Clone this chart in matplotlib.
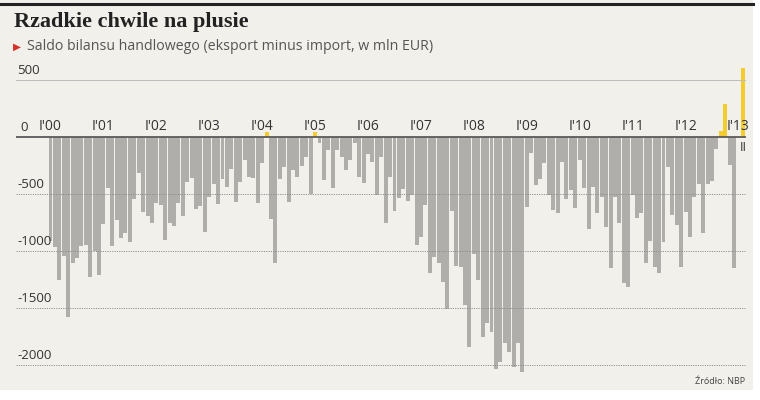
import matplotlib
matplotlib.use("Agg")
import matplotlib.pyplot as plt
from matplotlib.patches import Rectangle
import numpy as np

# Monthly trade balance, Jan 2000 - Feb 2013 (mln EUR)
values = [
    -908, -967, -1258, -1045, -1582, -1102, -1058, -952, -943, -1225, -1001, -1206,   # 2000
    -760, -446, -952, -725, -884, -840, -918, -543, -316, -661, -696, -750,           # 2001
    -582, -600, -903, -757, -780, -582, -693, -392, -362, -634, -605, -830,           # 2002
    -523, -412, -588, -371, -436, -283, -567, -392, -202, -348, -362, -576,           # 2003
    -231, 45, -722, -1108, -371, -260, -567, -289, -348, -254, -173, -500,            # 2004
    45, -56, -377, -114, -450, -114, -173, -290, -202, -50, -348, -400,               # 2005
    -149, -216, -509, -178, -751, -348, -649, -538, -459, -561, -509, -947,           # 2006
    -874, -596, -1196, -1050, -1108, -1269, -1508, -646, -1131, -1143, -1473, -1839,  # 2007
    -1029, -1254, -1751, -1628, -1707, -2037, -1970, -1809, -1883, -2014, -1803, -2064,  # 2008
    -611, -137, -421, -371, -225, -509, -640, -669, -216, -544, -465, -625,           # 2009
    -202, -450, -807, -436, -664, -523, -786, -1152, -523, -751, -1278, -1313,        # 2010
    -509, -713, -664, -1108, -909, -1137, -1190, -918, -266, -684, -772, -1137,       # 2011
    -655, -880, -523, -415, -845, -412, -383, -108, 55, 289, -246, -1152,             # 2012
    0, 602,                                                                           # 2013
]
year_labels = ["I'00", "I'01", "I'02", "I'03", "I'04", "I'05", "I'06",
               "I'07", "I'08", "I'09", "I'10", "I'11", "I'12", "I'13"]
y_ticks = [500, 0, -500, -1000, -1500, -2000]
title = "Rzadkie chwile na plusie"
subtitle = "Saldo bilansu handlowego (eksport minus import, w mln EUR)"
source = "Źródło: NBP"
last_label = "II"

W, H = 760, 400
BG = "#f2f0eb"
GRAY = "#afaeab"
YELLOW = "#f3cd2e"
TXT = "#333333"

fig = plt.figure(figsize=(W / 100, H / 100), dpi=100)
fig.patch.set_facecolor("white")
fig.patches.append(Rectangle((0, 10 / H), 753 / W, 390 / H, transform=fig.transFigure,
                             facecolor=BG, edgecolor="none", zorder=-10))
fig.add_artist(plt.Line2D([0, 753 / W], [1 - 4 / H, 1 - 4 / H], transform=fig.transFigure,
                          color="#222222", lw=2.2))

ax_left_px, ax_right_px, ax_top_px, ax_bot_px = 16, 748, 60, 380
ax = fig.add_axes([ax_left_px / W, 1 - ax_bot_px / H,
                   (ax_right_px - ax_left_px) / W, (ax_bot_px - ax_top_px) / H])
ax.set_facecolor("none")
for s in ax.spines.values():
    s.set_visible(False)
ax.set_xticks([])
ax.set_yticks([])

n = len(values)
idx = np.arange(n)
colors = [YELLOW if v > 0 else GRAY for v in values]
ax.bar(idx, values, width=0.9, color=colors, zorder=2, linewidth=0)

bar_px = 4.41
x0 = (ax_left_px - 48.3) / bar_px - 0.5
x1 = (ax_right_px - 48.3) / bar_px - 0.5
ax.set_xlim(x0, x1)
ax.set_ylim(-(ax_bot_px - 137) * 8.77, (137 - ax_top_px) * 8.77)

grid_end = ((745 - 48.3) / bar_px - 0.5 - x0) / (x1 - x0)
for t in y_ticks:
    if t == 0:
        ax.axhline(0, xmin=0, xmax=grid_end, color="#5a5a5a", lw=1.3, zorder=4)
    elif t > 0:
        ax.axhline(t, xmin=0, xmax=grid_end, color="#bdbdbd", lw=0.7, zorder=3)
    else:
        ax.axhline(t, xmin=0, xmax=grid_end, color="#8f8f8f", lw=0.7,
                   ls=(0, (1.2, 1.2)), zorder=3)
    ax.annotate(str(t), xy=(0, t), xycoords=("axes fraction", "data"),
                xytext=(1 if t != 0 else 3, 2), textcoords="offset points",
                ha="left", va="bottom", fontsize=9.5, color=TXT, family="Open Sans")

for k, lab in enumerate(year_labels):
    ax.annotate(lab, xy=(12 * k, 0), xycoords="data", xytext=(0, 2),
                textcoords="offset points", ha="center", va="bottom",
                fontsize=10, color=TXT, family="Open Sans")

ax.annotate(last_label, xy=(n - 1, 0), xycoords="data", xytext=(0, -3),
            textcoords="offset points", ha="center", va="top",
            fontsize=9, color=TXT, family="Open Sans")

fig.text(14 / W, 1 - 22 / H, title, fontsize=16, fontweight="bold",
         family="Liberation Serif", color="#222222", va="center", ha="left")
fig.text(13 / W, 1 - 47 / H, "▶", fontsize=7.5, color="#d6322b",
         family="DejaVu Sans", va="center", ha="left")
fig.text(27 / W, 1 - 47 / H, subtitle, fontsize=10.2, color="#555555",
         family="Open Sans", va="center", ha="left")
fig.text(745 / W, 1 - 381 / H, source, fontsize=6.5, color="#444444",
         family="Open Sans", va="center", ha="right")

fig.savefig("out.png", dpi=100, facecolor=fig.get_facecolor())
